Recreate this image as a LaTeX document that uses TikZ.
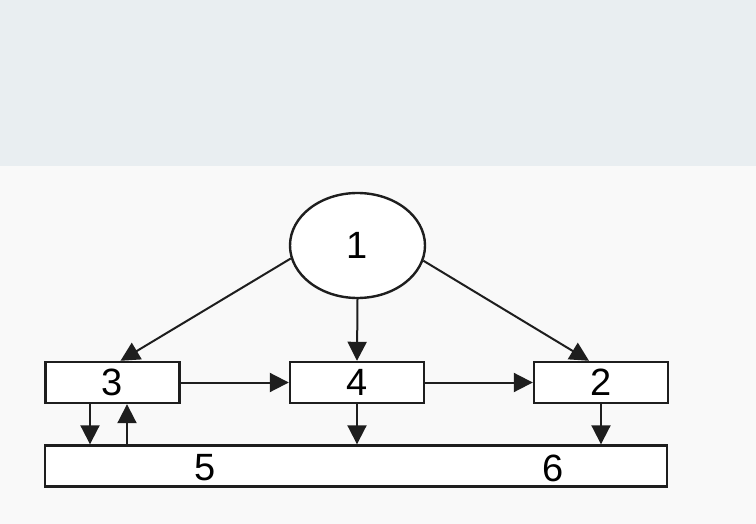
\documentclass[tikz,border=0pt]{standalone}
\usepackage{fontspec}
\setmainfont{Liberation Sans}
\definecolor{bandgray}{RGB}{233, 238, 241}
\definecolor{paperwhite}{RGB}{249, 249, 249}
\definecolor{inkgray}{RGB}{30, 30, 30}
\usetikzlibrary{shapes.geometric, arrows.meta, positioning, calc}
\tikzset{
  blockbox/.style={draw=inkgray, fill=white, line width=2.4pt, minimum width=134pt, minimum height=41pt, inner sep=0pt, font=\fontsize{38}{40}\selectfont},
  flowarr/.style={draw=inkgray, line width=2pt, -{Triangle[length=19pt, width=19pt]}}
}

\begin{document}
\begin{tikzpicture}[x=1pt, y=-1pt]
  % background
  \fill[paperwhite] (0,0) rectangle (756,524);
  \fill[bandgray] (0,0) rectangle (756,166);

  \node[ellipse, draw=inkgray, fill=white, line width=2.4pt, minimum width=135pt, minimum height=105pt, inner sep=0pt, font=\fontsize{38}{40}\selectfont] (e1) at (357.5, 245.5) {1};

  \node[blockbox] (b3) at (112.5, 382.5) {3};
  \node[blockbox] (b4) at (357, 382.5) {4};
  \node[blockbox] (b2) at (601, 382.5) {2};
  \node[blockbox, minimum width=622pt] (b56) at (356, 466) {};
  \node[font=\fontsize{38}{40}\selectfont] (l5) at (205, 468) {5};
  \node[font=\fontsize{38}{40}\selectfont] (l6) at (553, 468) {6};

  % from the ellipse
  \draw[flowarr] (e1.191) -- ([xshift=8pt]b3.north);
  \draw[flowarr] (e1.south) -- (b4.north);
  \draw[flowarr] (e1.347) -- ([xshift=-12pt]b2.north);

  % along the row
  \draw[flowarr] (b3.east) -- (b4.west);
  \draw[flowarr] (b4.east) -- (b2.west);

  % down to the long box
  \draw[flowarr] ([xshift=-22.5pt]b3.south) -- ([xshift=-22.5pt]b3.south |- b56.north);
  \draw[flowarr] ([xshift=14.5pt]b3.south |- b56.north) -- ([xshift=14.5pt]b3.south);
  \draw[flowarr] (b4.south) -- (b4.south |- b56.north);
  \draw[flowarr] (b2.south) -- (b2.south |- b56.north);
\end{tikzpicture}
\end{document}
